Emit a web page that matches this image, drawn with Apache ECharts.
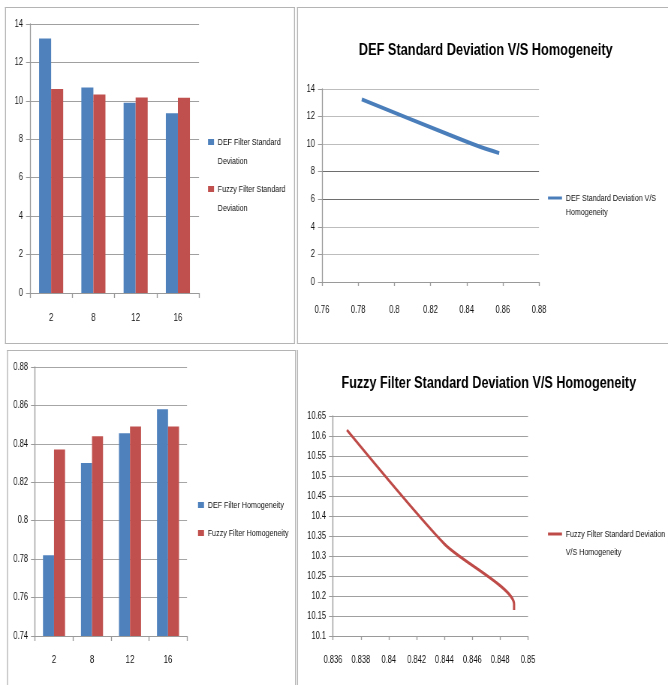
<!DOCTYPE html>
<html>
<head>
<meta charset="utf-8">
<script src="https://cdn.jsdelivr.net/npm/echarts@6/dist/echarts.min.js"></script>
<style>
html,body{margin:0;padding:0;background:#fff;overflow:hidden;width:668px;height:685px;}
#c{width:890px;height:685px;transform:scaleX(0.750562);transform-origin:0 0;}
</style>
</head>
<body>
<div id="c"></div>
<script>
// ---- data ----
var categories = ['2', '8', '12', '16'];
var defStd = [13.25, 10.7, 9.9, 9.35];
var fuzzyStd = [10.615, 10.33, 10.18, 10.165];
var defHomog = [0.782, 0.830, 0.8455, 0.858];
var fuzzyHomog = [0.837, 0.844, 0.849, 0.849];

// The reference is horizontally condensed; the chart is drawn on a wider canvas
// and condensed with a CSS scaleX, so every horizontal position goes through X().
var S = 668 / 890;
function X(v) { return v / S; }
var VW = 1 / S; // width that gives a 1px vertical stroke after condensing

var FONT = '"Liberation Sans", Arial, sans-serif';
var TXT = '#111';
var BLUE = '#4f81bd', RED = '#c0504d';
var LBLUE = '#4a7ebb', LRED = '#be4b48';
var AX = '#9a9a9a';

function pairs(xs, ys) { return xs.map(function (x, i) { return [x, ys[i]]; }); }

var names = {
  s1a: 'DEF Filter Standard Deviation',
  s1b: 'Fuzzy Filter Standard Deviation',
  s2: 'DEF Standard Deviation V/S Homogeneity',
  s3a: 'DEF Filter Homogeneity',
  s3b: 'Fuzzy Filter Homogeneity',
  s4: 'Fuzzy Filter Standard Deviation V/S Homogeneity'
};
// legend labels wrapped like the reference; the leading empty line keeps the
// legend icon level with the first text line
var wrapped = {};
wrapped[names.s1a] = '\nDEF Filter Standard\nDeviation';
wrapped[names.s1b] = '\nFuzzy Filter Standard\nDeviation';
wrapped[names.s2] = '\nDEF Standard Deviation V/S\nHomogeneity';
wrapped[names.s4] = '\nFuzzy Filter Standard Deviation\nV/S Homogeneity';

function lab(size) { return { fontFamily: FONT, fontSize: size, color: TXT }; }

function catAxis(gi, margin) {
  return {
    type: 'category', gridIndex: gi, data: categories,
    axisLine: { lineStyle: { color: AX } },
    axisTick: { show: true, length: 5, lineStyle: { color: AX, width: VW } },
    axisLabel: Object.assign(lab(10.5), { margin: margin })
  };
}
function xValAxis(gi, min, max, interval, margin) {
  return {
    type: 'value', gridIndex: gi, min: min, max: max, interval: interval,
    axisLine: { show: true, lineStyle: { color: AX } },
    axisTick: { show: true, length: 4, lineStyle: { color: AX, width: VW } },
    axisLabel: Object.assign(lab(10), { margin: margin }),
    splitLine: { show: false }
  };
}
function yValAxis(gi, min, max, interval, splitColor) {
  return {
    type: 'value', gridIndex: gi, min: min, max: max, interval: interval,
    axisLine: { show: true, lineStyle: { color: AX, width: VW } },
    axisTick: { show: true, length: X(4), lineStyle: { color: AX } },
    axisLabel: Object.assign(lab(10), { margin: X(7) }),
    splitLine: { show: true, lineStyle: { color: splitColor, width: 1 } }
  };
}

var lightG = '#bdbdbd', darkG = '#6e6e6e';

function hLine(x1, x2, y) {
  return { type: 'line', silent: true, z: -1, shape: { x1: X(x1), y1: y, x2: X(x2), y2: y },
    style: { stroke: '#b4b4b4', lineWidth: 1 } };
}
function vLine(x, y1, y2) {
  return { type: 'line', silent: true, z: -1, shape: { x1: X(x), y1: y1, x2: X(x), y2: y2 },
    style: { stroke: '#b4b4b4', lineWidth: VW } };
}

var option = {
  backgroundColor: '#fff',
  animation: false,
  textStyle: { fontFamily: FONT },
  title: [
    { text: 'DEF Standard Deviation V/S Homogeneity', left: X(482), top: 37, textAlign: 'center',
      textStyle: { fontFamily: FONT, fontSize: 17, fontWeight: 'bold', color: '#000' } },
    { text: 'Fuzzy Filter Standard Deviation V/S Homogeneity', left: X(485), top: 370, textAlign: 'center',
      textStyle: { fontFamily: FONT, fontSize: 16.8, fontWeight: 'bold', color: '#000' } }
  ],
  grid: [
    { left: X(30), top: 24, width: X(169), height: 269 },
    { left: X(322), top: 89, width: X(217), height: 193 },
    { left: X(35), top: 367, width: X(152), height: 269 },
    { left: X(333), top: 416, width: X(195), height: 220 }
  ],
  xAxis: [
    catAxis(0, 20),
    xValAxis(1, 0.76, 0.88, 0.02, 23),
    catAxis(2, 19),
    xValAxis(3, 0.836, 0.85, 0.002, 19)
  ],
  yAxis: [
    yValAxis(0, 0, 14, 2, '#a0a0a0'),
    (function () {
      var a = yValAxis(1, 0, 14, 2, lightG);
      a.splitLine.lineStyle.color = [lightG, lightG, lightG, darkG, darkG, lightG, lightG, lightG];
      return a;
    })(),
    yValAxis(2, 0.74, 0.88, 0.02, '#a6a6a6'),
    yValAxis(3, 10.1, 10.65, 0.05, '#a0a0a0')
  ],
  legend: [
    { data: [names.s1a, names.s1b], orient: 'vertical', left: X(208), top: 113.5, padding: 0,
      itemWidth: X(6), itemHeight: 6, itemGap: -10, icon: 'rect',
      formatter: function (n) { return wrapped[n]; },
      textStyle: { fontFamily: FONT, fontSize: 9.5, color: TXT, lineHeight: 19 } },
    { data: [names.s2], orient: 'vertical', left: X(548), top: 177, padding: 0,
      itemWidth: X(14), itemHeight: 3, icon: 'rect',
      formatter: function (n) { return wrapped[n]; },
      textStyle: { fontFamily: FONT, fontSize: 9.5, color: TXT, lineHeight: 14 } },
    { data: [names.s3a, names.s3b], orient: 'vertical', left: X(198), top: 499, padding: 0,
      itemWidth: X(6), itemHeight: 6, itemGap: 16, icon: 'rect',
      textStyle: { fontFamily: FONT, fontSize: 9.5, color: TXT, lineHeight: 12 } },
    { data: [names.s4], orient: 'vertical', left: X(548), top: 507, padding: 0,
      itemWidth: X(14), itemHeight: 3, icon: 'rect',
      formatter: function (n) { return wrapped[n]; },
      textStyle: { fontFamily: FONT, fontSize: 9.5, color: TXT, lineHeight: 18 } }
  ],
  series: [
    { name: names.s1a, type: 'bar', xAxisIndex: 0, yAxisIndex: 0, data: defStd,
      barGap: '0%', barCategoryGap: '43%', itemStyle: { color: BLUE } },
    { name: names.s1b, type: 'bar', xAxisIndex: 0, yAxisIndex: 0, data: fuzzyStd,
      barGap: '0%', barCategoryGap: '43%', itemStyle: { color: RED } },
    { name: names.s2, type: 'line', xAxisIndex: 1, yAxisIndex: 1, data: pairs(defHomog, defStd),
      symbol: 'none', smooth: 0.3, lineStyle: { color: LBLUE, width: 4 }, itemStyle: { color: LBLUE } },
    { name: names.s3a, type: 'bar', xAxisIndex: 2, yAxisIndex: 2, data: defHomog,
      barGap: '0%', barCategoryGap: '42%', itemStyle: { color: BLUE } },
    { name: names.s3b, type: 'bar', xAxisIndex: 2, yAxisIndex: 2, data: fuzzyHomog,
      barGap: '0%', barCategoryGap: '42%', itemStyle: { color: RED } },
    { name: names.s4, type: 'line', xAxisIndex: 3, yAxisIndex: 3, data: pairs(fuzzyHomog, fuzzyStd),
      symbol: 'none', smooth: 0.25, lineStyle: { color: LRED, width: 3 }, itemStyle: { color: LRED } }
  ],
  graphic: [
    hLine(5, 295, 7.5), hLine(5, 295, 343.5), vLine(5.5, 7, 344), vLine(294.5, 7, 344),
    hLine(297, 700, 7.5), hLine(297, 700, 343.5), vLine(297.5, 7, 344),
    hLine(7, 296, 350.5), vLine(7.5, 350, 690), vLine(295.5, 350, 690),
    vLine(297.5, 350, 690)
  ]
};

var chart = echarts.init(document.getElementById('c'), null, { renderer: 'canvas' });
chart.setOption(option);
</script>
</body>
</html>
